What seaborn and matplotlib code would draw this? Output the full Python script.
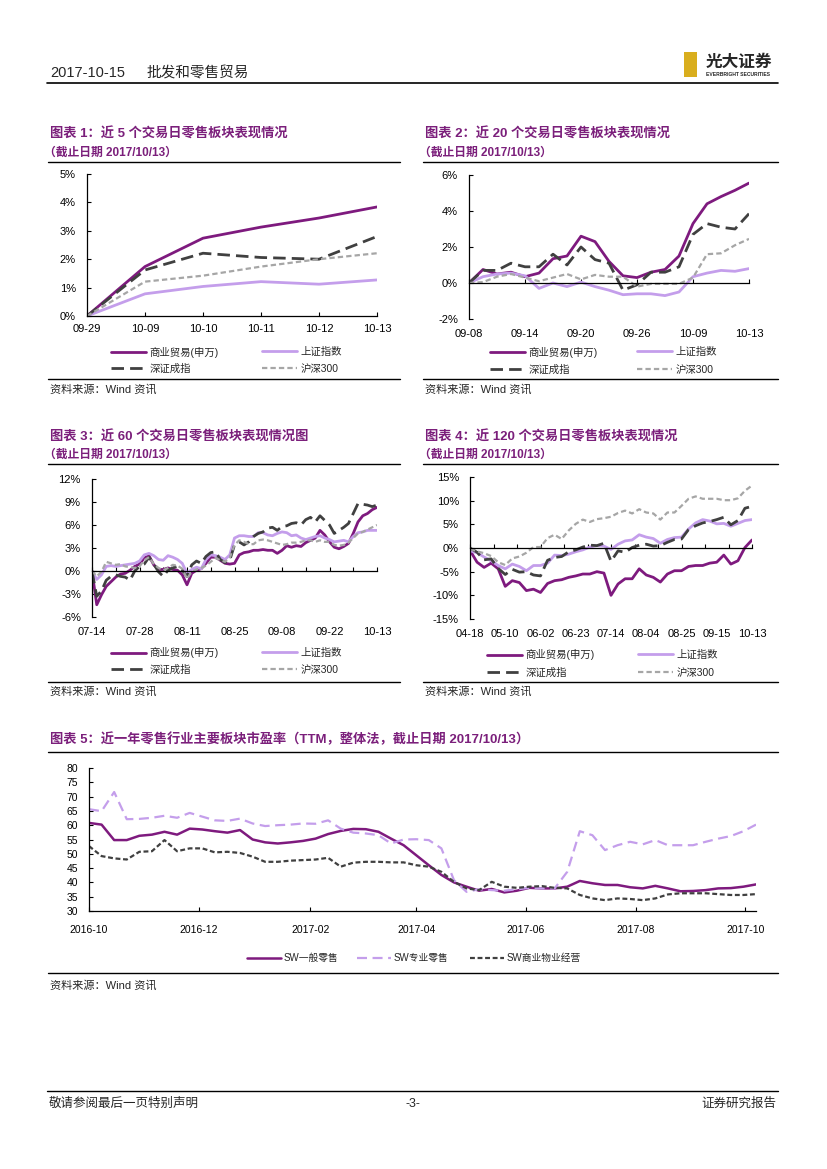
import numpy as np
import pandas as pd
import seaborn as sns
import matplotlib.pyplot as plt
from matplotlib.lines import Line2D
from matplotlib.patches import Rectangle
from matplotlib.ticker import FuncFormatter

W, H = 827, 1169

# ---------------- data ----------------
c1_dates = ["09-29", "10-09", "10-10", "10-11", "10-12", "10-13"]
c1_symy = [0.0, 1.74, 2.74, 3.13, 3.45, 3.84]
c1_szzs = [0.0, 0.78, 1.04, 1.21, 1.12, 1.27]
c1_szcz = [0.0, 1.62, 2.21, 2.06, 2.0, 2.8]
c1_hs300 = [0.0, 1.21, 1.42, 1.74, 2.0, 2.21]

c2_ticks = ["09-08", "09-14", "09-20", "09-26", "10-09", "10-13"]
c2_symy = [0.0, 0.75, 0.5, 0.6, 0.35, 0.55, 1.35, 1.5, 2.6, 2.3, 1.2, 0.4, 0.3, 0.6, 0.75, 1.5, 3.3, 4.4, 4.8, 5.15, 5.55]
c2_szzs = [0.0, 0.35, 0.5, 0.55, 0.4, -0.3, 0.0, -0.2, 0.05, -0.2, -0.4, -0.65, -0.6, -0.6, -0.7, -0.5, 0.35, 0.55, 0.7, 0.65, 0.8]
c2_szcz = [0.0, 0.7, 0.7, 1.1, 0.9, 0.9, 1.6, 1.0, 2.0, 1.3, 1.1, -0.4, -0.1, 0.6, 0.6, 0.9, 2.7, 3.3, 3.1, 3.0, 3.85]
c2_hs300 = [0.0, 0.05, 0.35, 0.5, 0.3, 0.1, 0.3, 0.5, 0.2, 0.45, 0.35, 0.35, -0.2, -0.05, -0.05, -0.05, 0.3, 1.6, 1.65, 2.1, 2.45]

c3_ticks = ["07-14", "07-28", "08-11", "08-25", "09-08", "09-22", "10-13"]
c3_symy = [0, -4.4, -3.1, -2.0, -1.4, -0.8, -0.4, -0.3, 0.1, 0.6,
           0.9, 1.7, 2.0, 0.8, 0.2, 0.2, 0.4, 0.2, 0.1, -0.5,
           -1.8, -0.3, 0.1, 0.3, 1.0, 1.8, 1.8, 1.4, 1.0, 0.9,
           1.0, 2.1, 2.4, 2.5, 2.7, 2.7, 2.8, 2.7, 2.7, 2.3,
           2.7, 3.3, 3.1, 3.3, 3.2, 3.7, 4.0, 4.3, 5.3, 4.7,
           3.8, 3.1, 2.9, 3.2, 3.6, 4.9, 6.4, 7.2, 7.5, 8.0, 8.3]
c3_szzs = [0, -1.1, -0.5, 0.6, 0.7, 0.6, 0.7, 0.8, 0.9, 1.0,
           1.3, 2.1, 2.3, 2.0, 1.5, 1.4, 2.0, 1.8, 1.5, 1.0,
           -0.3, 0.2, 0.5, 0.3, 1.5, 2.1, 2.0, 1.8, 1.5, 2.1,
           4.3, 4.6, 4.6, 4.5, 4.5, 5.0, 5.0, 4.7, 4.6, 4.9,
           5.1, 5.0, 4.6, 4.7, 4.3, 4.1, 4.3, 4.5, 4.6, 4.3,
           4.1, 3.8, 3.9, 4.0, 3.8, 4.5, 5.0, 5.1, 5.3, 5.3, 5.3]
c3_szcz = [0, -3.3, -2.6, -1.2, -0.7, -0.5, -0.7, -0.8, -1.2, 0.0,
           0.6, 0.9, 1.8, 0.9, -0.1, -0.7, 0.1, 0.4, 0.6, 0.1,
           -0.7, 0.8, 1.3, 1.0, 1.9, 2.4, 2.5, 1.5, 1.1, 1.4,
           3.4, 3.8, 3.4, 3.8, 4.5, 4.9, 5.1, 5.6, 5.7, 5.3,
           5.8, 5.9, 6.2, 6.3, 6.0, 6.7, 7.0, 6.4, 7.2, 6.6,
           6.0, 4.9, 5.3, 5.7, 6.2, 7.5, 8.8, 8.7, 8.6, 8.4, 8.6]
c3_hs300 = [0, -0.7, -0.1, 1.2, 1.0, 0.8, 0.9, 0.6, 0.5, 0.4,
            0.6, 1.4, 1.8, 0.9, 0.4, 0.1, 0.4, 0.8, 0.7, 0.3,
            -1.0, -0.1, 0.2, 0.4, 0.7, 1.2, 1.7, 1.4, 1.2, 1.7,
            3.4, 4.0, 3.8, 3.5, 3.5, 4.0, 4.1, 4.0, 3.8, 3.6,
            3.4, 3.5, 3.7, 3.7, 3.8, 4.0, 4.0, 3.8, 4.0, 3.8,
            3.8, 3.4, 3.3, 3.4, 3.7, 4.3, 4.9, 5.1, 5.4, 5.7, 6.0]

# chart 4 read every third trading day
c4_day = list(range(0, 121, 3))
c4_ticks = ["04-18", "05-10", "06-02", "06-23", "07-14", "08-04", "08-25", "09-15", "10-13"]
c4_symy = [-0.5, -3.0, -4.1, -3.2, -4.4, -8.1, -6.9, -7.3, -9.0, -8.7,
           -9.4, -7.5, -6.9, -6.7, -6.2, -5.9, -5.5, -5.5, -5.0, -5.3,
           -10.0, -7.6, -6.5, -6.5, -4.4, -5.7, -6.2, -7.2, -5.5, -4.8,
           -4.8, -3.9, -3.7, -3.7, -3.2, -3.0, -1.5, -3.4, -2.7, 0.1, 1.7]
c4_szzs = [-0.6, -1.0, -1.9, -2.7, -3.7, -4.4, -3.4, -3.9, -4.8, -3.7,
           -3.7, -3.2, -1.5, -1.6, -1.3, -0.8, -0.4, 0.2, 0.5, 0.4,
           -0.3, 0.8, 1.5, 1.7, 2.8, 2.3, 2.0, 1.0, 1.8, 2.2,
           2.3, 4.0, 5.3, 6.0, 5.7, 5.1, 5.2, 4.6, 5.2, 5.8, 6.0]
c4_szcz = [0.0, -0.9, -2.5, -2.3, -4.3, -5.6, -4.5, -5.1, -5.0, -5.7,
           -5.9, -2.6, -2.0, -1.8, -0.8, -0.4, 0.2, 0.6, 0.5, 1.0,
           -2.8, -0.6, -0.9, 0.1, 0.6, 0.8, 0.4, 0.5, 1.2, 1.8,
           1.9, 3.9, 4.7, 5.3, 5.6, 6.0, 6.5, 4.9, 5.8, 8.4, 8.8]
c4_hs300 = [-0.2, -0.7, -1.1, -1.7, -3.0, -3.6, -2.2, -1.8, -1.0, 0.2,
            0.2, 2.1, 2.8, 1.9, 3.7, 5.1, 6.0, 5.5, 6.1, 6.3,
            6.6, 7.4, 7.9, 7.3, 8.2, 7.5, 7.3, 6.0, 7.5, 7.5,
            8.9, 10.4, 10.9, 10.4, 10.4, 10.4, 10.1, 10.1, 10.5, 12.1, 13.2]

# chart 5 weekly PE (TTM)
c5_dates = pd.date_range("2016-10-01", periods=54, freq="7D")
c5_ybls = [60.8, 60.2, 54.8, 54.8, 56.3, 56.7, 57.7, 56.7, 58.8, 58.5,
           57.9, 57.4, 58.3, 55.0, 54.0, 53.6, 54.0, 54.5, 55.3, 56.9,
           58.0, 58.7, 58.6, 57.7, 55.3, 53.0, 49.5, 46.0, 42.6, 40.0,
           38.5, 37.1, 37.7, 36.5, 37.1, 38.1, 37.9, 37.9, 38.5, 40.5,
           39.7, 39.1, 39.1, 38.3, 37.9, 38.8, 37.9, 36.9, 37.0, 37.3,
           37.9, 38.0, 38.5, 39.3]
c5_zyls = [65.6, 64.9, 71.6, 62.1, 62.2, 62.6, 63.3, 62.6, 64.3, 63.0,
           61.7, 61.5, 62.3, 60.6, 59.7, 60.0, 60.2, 60.6, 60.5, 61.7,
           58.8, 57.4, 57.1, 56.5, 53.6, 55.0, 55.1, 54.8, 51.9, 40.8,
           36.7, 37.6, 37.3, 37.1, 37.6, 38.1, 37.9, 37.9, 43.7, 57.9,
           56.5, 51.3, 53.0, 54.2, 53.3, 54.8, 53.0, 53.0, 53.0, 54.2,
           55.3, 56.2, 57.9, 60.2]
c5_wyjy = [52.7, 49.2, 48.4, 48.0, 50.7, 50.9, 54.8, 50.9, 51.9, 51.9,
           50.5, 50.7, 50.3, 49.0, 47.2, 47.2, 47.6, 47.8, 48.0, 48.6,
           45.5, 46.9, 47.2, 47.2, 47.0, 47.0, 46.0, 45.5, 43.7, 40.2,
           37.9, 37.3, 40.2, 38.5, 38.1, 38.5, 38.7, 38.1, 37.9, 35.6,
           34.4, 33.8, 34.4, 34.2, 33.8, 34.4, 35.8, 36.2, 36.2, 36.2,
           35.9, 35.6, 35.6, 35.9]
c5_ticks = ["2016-10", "2016-12", "2017-02", "2017-04", "2017-06", "2017-08", "2017-10"]

# ---------------- style ----------------
sns.set_theme(style="white")
plt.rcParams['font.family'] = ['Liberation Sans', 'Noto Sans CJK SC', 'DejaVu Sans']
plt.rcParams['axes.unicode_minus'] = False

PURPLE = "#7E1A7E"
LILAC = "#C49EEB"
DARK = "#404040"
GREY = "#A6A6A6"
TITLE_C = "#7B1F7B"

STYLES = [("商业贸易(申万)", PURPLE, '-', 2.0),
          ("上证指数", LILAC, '-', 2.0),
          ("深证成指", DARK, (0, (4.5, 2.2)), 2.0),
          ("沪深300", GREY, (0, (2.4, 1.4)), 1.6)]

fig = plt.figure(figsize=(W / 100, H / 100), dpi=100)
fig.patch.set_facecolor("white")


def rect(x0, y0, x1, y1):
    return [x0 / W, 1 - y1 / H, (x1 - x0) / W, (y1 - y0) / H]


def hline(x0, x1, y, lw=1.0):
    fig.add_artist(Line2D([x0 / W, x1 / W], [1 - y / H, 1 - y / H],
                          transform=fig.transFigure, color="black", lw=lw))


def ftext(x, y, s, **kw):
    kw.setdefault("va", "center")
    fig.text(x / W, 1 - y / H, s, **kw)


def put_legend(h, label, x, y, fs=7.5, hl=3.4):
    fig.legend([h], [label], loc="center left", bbox_to_anchor=(x / W, 1 - y / H),
               frameon=False, fontsize=fs, handlelength=hl, handletextpad=0.3,
               borderpad=0, borderaxespad=0)


def ret_chart(box, x, series, xlim, ylim, ystep, tick_every, lab_pos, lab_txt, zero_axis, legpos):
    ax = fig.add_axes(rect(*box))
    handles = []
    for (name, col, ls, lw), vals in zip(STYLES, series):
        df = pd.DataFrame({"x": x, "y": vals})
        sns.lineplot(data=df, x="x", y="y", color=col, linestyle=ls, linewidth=lw,
                     ax=ax, legend=False, errorbar=None)
        handles.append(ax.lines[-1])
    ax.set_xlabel("")
    ax.set_ylabel("")
    ax.set_xlim(*xlim)
    ax.set_ylim(*ylim)
    ax.set_yticks(np.arange(ylim[0], ylim[1] + 0.01, ystep))
    ax.yaxis.set_major_formatter(FuncFormatter(lambda v, p: f"{v:.0f}%"))
    ax.set_facecolor("none")
    for s in ["top", "right"]:
        ax.spines[s].set_visible(False)
    for s in ["left", "bottom"]:
        ax.spines[s].set_color("black")
        ax.spines[s].set_linewidth(0.9)
    ax.tick_params(axis="y", direction="in", length=3, width=0.8, color="black",
                   labelsize=8, labelcolor="black", pad=8, left=True)
    ax.set_xticks(np.arange(xlim[0], xlim[1] + 0.01, tick_every))
    if zero_axis:
        ax.spines["bottom"].set_position(("data", 0))
        ax.tick_params(axis="x", direction="in", length=3, width=0.8, color="black",
                       labelbottom=False, bottom=True)
        sec = ax.secondary_xaxis(0)
        sec.set_xticks(lab_pos, labels=lab_txt)
        sec.tick_params(axis="x", length=0, labelsize=8, labelcolor="black", pad=7)
        sec.spines["bottom"].set_visible(False)
    else:
        ax.set_xticks(lab_pos, labels=lab_txt)
        ax.tick_params(axis="x", direction="in", length=3, width=0.8, color="black",
                       labelsize=8, labelcolor="black", pad=6, bottom=True)
    (c1x, c2x), (r1, r2) = legpos
    put_legend(handles[0], STYLES[0][0], c1x, r1)
    put_legend(handles[1], STYLES[1][0], c2x, r1)
    put_legend(handles[2], STYLES[2][0], c1x, r2)
    put_legend(handles[3], STYLES[3][0], c2x, r2)
    return ax


# ---------------- header / footer ----------------
ftext(50, 73, "2017-10-15", fontsize=10.5)
ftext(147, 73, "批发和零售贸易", fontsize=10.5)
hline(47, 778, 83, lw=1.2)
fig.add_artist(Rectangle((684 / W, 1 - 77 / H), 13 / W, 25 / H, transform=fig.transFigure,
                         facecolor="#D9AE1E", edgecolor="none"))
ftext(706, 62, "光大证券", fontsize=12, fontweight="bold")
ftext(706, 74, "EVERBRIGHT SECURITIES", fontsize=3.6, fontweight="bold")

hline(47, 778, 1091, lw=1.0)
ftext(49, 1104, "敬请参阅最后一页特别声明", fontsize=9)
ftext(413, 1104, "-3-", fontsize=9, ha="center")
ftext(776, 1104, "证券研究报告", fontsize=9, ha="right")

# ---------------- titles ----------------
SUB = "（截止日期 2017/10/13）"
for (x, y, t) in [(50, 134, "图表 1：近 5 个交易日零售板块表现情况"),
                  (425, 134, "图表 2：近 20 个交易日零售板块表现情况"),
                  (50, 437, "图表 3：近 60 个交易日零售板块表现情况图"),
                  (425, 437, "图表 4：近 120 个交易日零售板块表现情况"),
                  (50, 739, "图表 5：近一年零售行业主要板块市盈率（TTM，整体法，截止日期 2017/10/13）")]:
    ftext(x, y, t, fontsize=9.5, fontweight="bold", color=TITLE_C)
for (x, y) in [(44, 153), (419, 153), (44, 455), (419, 455)]:
    ftext(x, y, SUB, fontsize=8.5, fontweight="bold", color=TITLE_C)

for (x0, x1, y) in [(48, 400, 162), (423, 778, 162), (48, 400, 464), (423, 778, 464), (48, 778, 752)]:
    hline(x0, x1, y)
for (x0, x1, y, tx, ty) in [(48, 400, 379, 50, 389), (423, 778, 379, 425, 389),
                            (48, 400, 682, 50, 691), (423, 778, 682, 425, 691),
                            (48, 778, 973, 50, 985)]:
    hline(x0, x1, y)
    ftext(tx, ty, "资料来源：Wind 资讯", fontsize=8)

# ---------------- charts 1-4 ----------------
ret_chart((87, 174, 377, 316), list(range(len(c1_dates))),
          [c1_symy, c1_szzs, c1_szcz, c1_hs300], (0, 5), (0, 5), 1, 1,
          list(range(len(c1_dates))), c1_dates, False,
          ((111, 262), (352, 369)))

ret_chart((469, 175, 749, 319), list(range(len(c2_symy))),
          [c2_symy, c2_szzs, c2_szcz, c2_hs300], (0, 20), (-2, 6), 2, 4,
          [0, 4, 8, 12, 16, 20], c2_ticks, True,
          ((490, 637), (352, 370)))

ret_chart((92, 479, 377, 617), list(range(len(c3_symy))),
          [c3_symy, c3_szzs, c3_szcz, c3_hs300], (0, 60), (-6, 12), 3, 5,
          list(range(0, 61, 10)), c3_ticks, True,
          ((111, 262), (653, 670)))

ret_chart((470, 477, 752, 619), c4_day,
          [c4_symy, c4_szzs, c4_szcz, c4_hs300], (0, 120), (-15, 15), 5, 10,
          list(range(0, 121, 15)), c4_ticks, True,
          ((487, 638), (655, 673)))

# ---------------- chart 5 ----------------
ax5 = fig.add_axes(rect(89, 768, 756, 911))
pe_styles = [("SW一般零售", c5_ybls, PURPLE, '-', 1.8),
             ("SW专业零售", c5_zyls, LILAC, (0, (4.5, 2.5)), 1.6),
             ("SW商业物业经营", c5_wyjy, DARK, (0, (2.2, 1.2)), 1.6)]
h5 = []
for name, vals, col, ls, lw in pe_styles:
    df = pd.DataFrame({"date": c5_dates, "pe": vals})
    sns.lineplot(data=df, x="date", y="pe", color=col, linestyle=ls, linewidth=lw,
                 ax=ax5, legend=False, errorbar=None)
    h5.append(ax5.lines[-1])
ax5.set_xlabel("")
ax5.set_ylabel("")
ax5.set_ylim(30, 80)
ax5.set_yticks(range(30, 81, 5))
ax5.set_xlim(pd.Timestamp("2016-10-01"), pd.Timestamp("2017-10-07"))
ax5.set_xticks(pd.to_datetime([t + "-01" for t in c5_ticks]), labels=c5_ticks)
ax5.set_facecolor("none")
for s in ["top", "right"]:
    ax5.spines[s].set_visible(False)
for s in ["left", "bottom"]:
    ax5.spines[s].set_color("black")
    ax5.spines[s].set_linewidth(0.9)
ax5.tick_params(axis="both", direction="in", length=3, width=0.8, color="black",
                labelsize=7.5, labelcolor="black", left=True, bottom=True)
ax5.tick_params(axis="y", pad=8)
ax5.tick_params(axis="x", pad=10)
for h, (name, *_), x in zip(h5, pe_styles, [247, 357, 470]):
    put_legend(h, name, x, 958, fs=7, hl=3.5)

fig.savefig("out.png", dpi=100)
